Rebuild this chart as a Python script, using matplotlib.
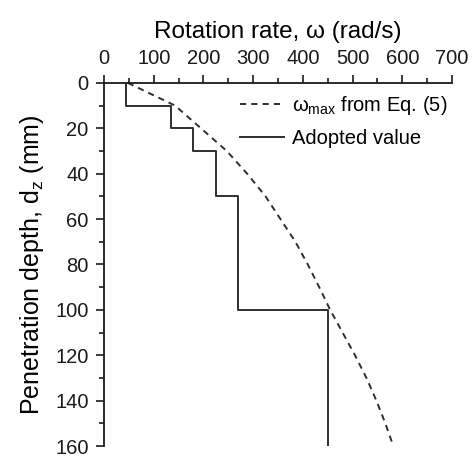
import matplotlib
matplotlib.use("Agg")
import matplotlib.pyplot as plt
from matplotlib.ticker import MultipleLocator

plt.rcParams["font.family"] = ["Liberation Sans", "DejaVu Sans"]
plt.rcParams["mathtext.fontset"] = "custom"
plt.rcParams["mathtext.rm"] = "Liberation Sans"
plt.rcParams["mathtext.it"] = "Liberation Sans"

# omega_max curve from Eq. (5), read at every 10 mm of depth
depth_max = [0, 10, 20, 30, 40, 50, 60, 70, 80, 90, 100, 110, 120, 130, 140, 150, 160]
omega_max = [48, 143, 195, 247, 288, 325, 355, 385, 410, 433, 455, 480, 505, 528, 548, 566, 582]

# adopted rotation rate, constant over each depth band
band_top = [0, 10, 20, 30, 50, 100]
band_bottom = [10, 20, 30, 50, 100, 160]
omega_adopted = [45, 135, 180, 225, 270, 450]

line_col = "#2e2e2e"

fig = plt.figure(figsize=(4.76, 4.58), dpi=100)
ax = fig.add_axes([0.2185, 0.026, 0.731, 0.793])

# build the staircase from the bands
step_x, step_y = [], []
for top, bot, w in zip(band_top, band_bottom, omega_adopted):
    step_x += [w, w]
    step_y += [top, bot]

ax.plot(omega_max, depth_max, "--", color=line_col, lw=1.4, dashes=(3.2, 2.6),
        label=r"$\omega_{\rm max}$ from Eq. (5)")
ax.plot(step_x, step_y, "-", color=line_col, lw=1.4, label="Adopted value")

ax.set_xlim(0, 700)
ax.set_ylim(160, 0)
ax.xaxis.set_major_locator(MultipleLocator(100))
ax.xaxis.set_minor_locator(MultipleLocator(50))
ax.yaxis.set_major_locator(MultipleLocator(20))
ax.yaxis.set_minor_locator(MultipleLocator(10))

ax.xaxis.tick_top()
ax.xaxis.set_label_position("top")
for s in ["right", "bottom"]:
    ax.spines[s].set_visible(False)
for s in ["left", "top"]:
    ax.spines[s].set_linewidth(1.3)
    ax.spines[s].set_color("#1a1a1a")

ax.tick_params(which="major", direction="out", length=6, width=1.2, labelsize=14.5,
               colors="#1a1a1a", pad=5)
ax.tick_params(which="minor", direction="out", length=3.5, width=1.2, colors="#1a1a1a")

ax.set_xlabel("Rotation rate, ω (rad/s)", fontsize=17.5, labelpad=8)
ax.set_ylabel(r"Penetration depth, d$_{\rm z}$ (mm)", fontsize=18, labelpad=7)

ax.legend(loc="upper right", bbox_to_anchor=(1.04, 1.02), frameon=False, fontsize=14.5,
          handlelength=2.2, handletextpad=0.4, labelspacing=0.6)

fig.savefig("out.png", dpi=100)
